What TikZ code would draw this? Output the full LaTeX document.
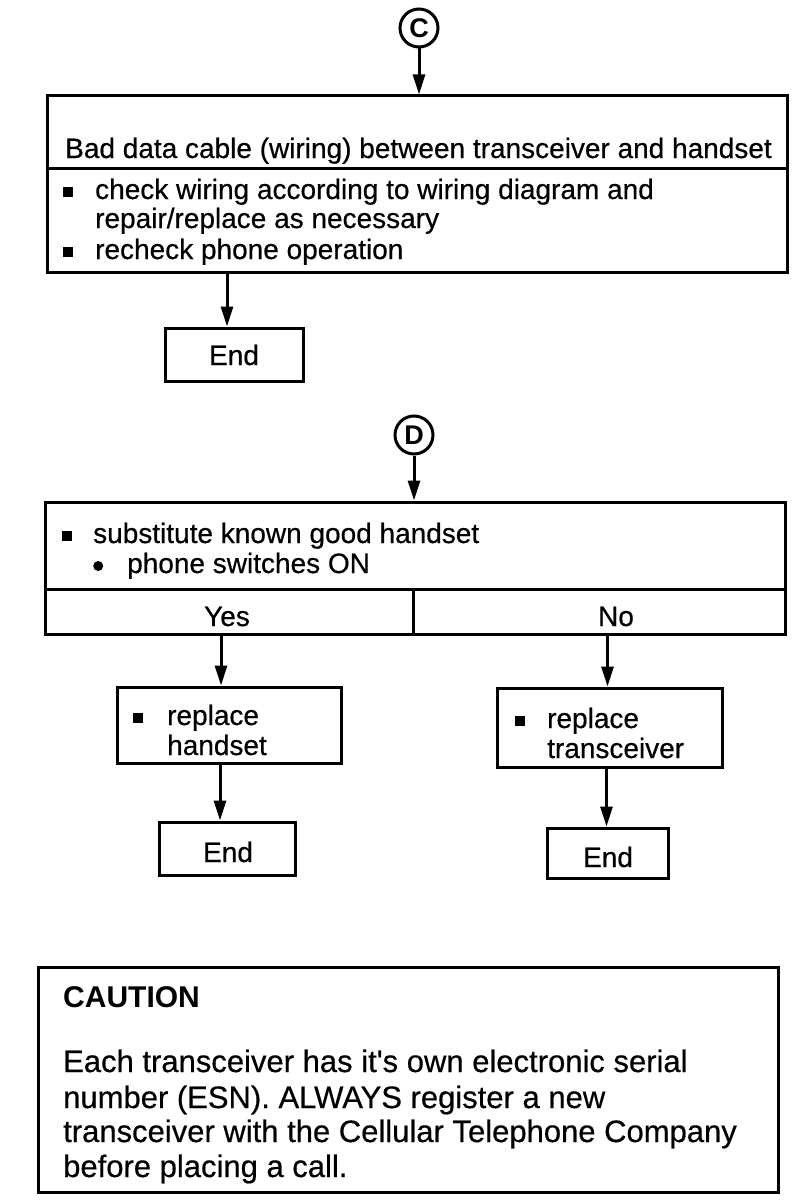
\documentclass[tikz,border=0pt]{standalone}
\usepackage{fontspec}
\setmainfont{Liberation Sans}[UprightFeatures={FakeBold=0.5}]
\usetikzlibrary{arrows.meta}
\newcommand{\sqb}{\raisebox{2pt}{\rule{10pt}{10pt}}}
\newcommand{\rdb}{\tikz[baseline=0pt,x=1cm,y=1cm]\fill (5pt,7pt) circle[radius=5pt];}
\begin{document}
\begin{tikzpicture}[x=1pt,y=-1pt,
  box/.style={draw, line width=3pt, inner sep=0pt},
  arr/.style={line width=3pt, -{Triangle[length=20pt,width=12pt]}},
  txt/.style={anchor=base west, inner sep=0pt, font=\fontsize{28}{30}\selectfont},
  ctxt/.style={anchor=base, inner sep=0pt, font=\fontsize{28}{30}\selectfont},
  cautxt/.style={anchor=base west, inner sep=0pt, font=\fontsize{31}{35}\selectfont},
  conn/.style={draw, circle, line width=3pt, minimum size=38pt, inner sep=0pt, font=\bfseries\fontsize{27}{27}\selectfont}]
\useasboundingbox (0,0) rectangle (800,1204);
\fill[white] (0,0) rectangle (800,1204);

% ---- C branch
\node[conn] (cC) at (419,28) {C};
\node[box, minimum width=740pt, minimum height=72pt] (b1h) at (417,132) {};
\node[box, minimum width=740pt, minimum height=104pt] (b1b) at (417,220) {};
\node[txt] (t1h) at (65,158) {Bad data cable (wiring) between transceiver and handset};
\node[txt] (t1a) at (63,199) {\makebox[32pt][l]{\sqb}check wiring according to wiring diagram and};
\node[txt] (t1b) at (95,228) {repair/replace as necessary};
\node[txt] (t1c) at (63,259) {\makebox[32pt][l]{\sqb}recheck phone operation};
\node[box, minimum width=138pt, minimum height=53pt] (e1) at (234,354.5) {};
\node[ctxt] (te1) at (234,365) {End};
\draw[arr] (cC.south) -- (cC.south |- b1h.north);
\draw[arr] ([xshift=-7pt]e1.north |- b1b.south) -- ([xshift=-7pt]e1.north);

% ---- D branch
\node[conn] (cD) at (414,435) {D};
\node[box, minimum width=740pt, minimum height=87pt] (b2) at (415,545.5) {};
\node[box, minimum width=368pt, minimum height=45pt] (yes) at (229,611.5) {};
\node[box, minimum width=372pt, minimum height=45pt] (no) at (599,611.5) {};
\node[txt] (t2a) at (62,543) {\makebox[31pt][l]{\sqb}substitute known good handset};
\node[txt] (t2b) at (93,573) {\makebox[34pt][l]{\rdb}phone switches ON};
\node[ctxt] (tyes) at (227,626) {Yes};
\node[ctxt] (tno) at (616,626) {No};
\draw[arr] (cD.south) -- (cD.south |- b2.north);

\node[box, minimum width=224pt, minimum height=76pt] (rh) at (229,725) {};
\node[txt] (trh1) at (133,725) {\makebox[34pt][l]{\sqb}replace};
\node[txt] (trh2) at (167,755) {handset};
\node[box, minimum width=225pt, minimum height=79pt] (rt) at (609.5,727.5) {};
\node[txt] (trt1) at (515,728) {\makebox[32pt][l]{\sqb}replace};
\node[txt] (trt2) at (547,758) {transceiver};

\node[box, minimum width=136pt, minimum height=53pt] (e2) at (227,848.5) {};
\node[ctxt] (te2) at (228,862) {End};
\node[box, minimum width=121pt, minimum height=50pt] (e3) at (607.5,853) {};
\node[ctxt] (te3) at (608,867) {End};

\draw[arr] ([xshift=-8pt]rh.north |- yes.south) -- ([xshift=-8pt]rh.north);
\draw[arr] ([xshift=-2pt]rt.north |- no.south) -- ([xshift=-2pt]rt.north);
\draw[arr] ([xshift=-7pt]e2.north |- rh.south) -- ([xshift=-7pt]e2.north);
\draw[arr] ([xshift=-1pt]e3.north |- rt.south) -- ([xshift=-1pt]e3.north);

% ---- Caution
\node[box, minimum width=740pt, minimum height=225pt] (cau) at (408,1079.5) {};
\node[cautxt, font=\bfseries\fontsize{30}{35}\selectfont] (tc0) at (63,1007) {CAUTION};
\node[cautxt] (tc1) at (63,1072) {Each transceiver has it\textquotesingle s own electronic serial};
\node[cautxt] (tc2) at (63,1108) {number (ESN). ALWAYS register a new};
\node[cautxt] (tc3) at (63,1142) {transceiver with the Cellular Telephone Company};
\node[cautxt] (tc4) at (63,1177) {before placing a call.};
\end{tikzpicture}
\end{document}
